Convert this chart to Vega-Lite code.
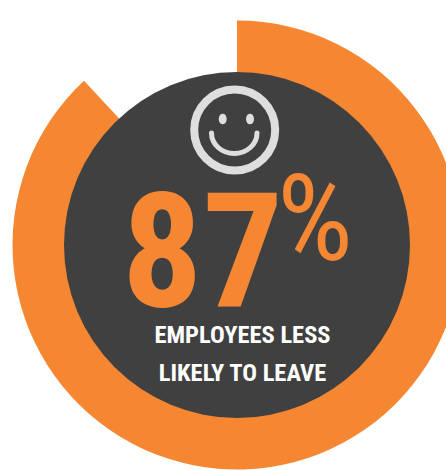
{
  "$schema": "https://vega.github.io/schema/vega-lite/v6.json",
  "width": 418,
  "height": 450,
  "padding": {"left": 28, "top": 20, "right": 0, "bottom": 0},
  "autosize": "none",
  "background": "white",
  "data": {"values": [{"metric": "Employees less likely to leave", "percent": 87}]},
  "layer": [
    {
      "mark": {"type": "arc", "color": "#F58733", "outerRadius": 224.5, "innerRadius": 0},
      "encoding": {
        "theta": {"field": "percent", "type": "quantitative", "stack": null, "scale": {"domain": [0, 100], "range": [0, 6.36]}, "legend": null}
      }
    },
    {
      "mark": {"type": "arc", "color": "#404040", "outerRadius": 173, "innerRadius": 0, "theta": 0, "theta2": 6.2832},
      "encoding": {}
    },
    {
      "description": "Smiley outline, eyes and mouth, with path units relative to the disc centre",
      "mark": {"type": "point", "size": 4, "filled": false, "stroke": "#DEDEDE", "strokeWidth": 8, "opacity": 1,
        "shape": "M38.2,-115 A40.5,40.5 0 1,1 -42.8,-115 A40.5,40.5 0 1,1 38.2,-115 Z"},
      "encoding": {}
    },
    {
      "mark": {"type": "point", "size": 4, "filled": false, "stroke": "#DEDEDE", "strokeWidth": 5, "strokeCap": "round", "opacity": 1,
        "shape": "M-25.5,-112 A22.75,20.5 0 0,0 20,-112"},
      "encoding": {}
    },
    {
      "mark": {"type": "point", "size": 4, "filled": true, "fill": "#DEDEDE", "opacity": 1,
        "shape": "M-18.3,-126 C-18.3,-133 -10.3,-133 -10.3,-126 C-10.3,-119 -18.3,-119 -18.3,-126 Z M9,-126 C9,-133 17,-133 17,-126 C17,-119 9,-119 9,-126 Z"},
      "encoding": {}
    },
    {
      "mark": {"type": "text", "font": "Roboto Condensed, DejaVu Sans Condensed, Liberation Sans", "fontWeight": "bold", "fontSize": 160, "color": "#F58733", "align": "center", "baseline": "middle", "dx": -34.5, "dy": 13},
      "encoding": {"text": {"field": "percent", "type": "quantitative"}}
    },
    {
      "mark": {"type": "text", "font": "Roboto Condensed, DejaVu Sans Condensed, Liberation Sans", "fontSize": 120, "color": "#F58733", "align": "center", "baseline": "middle", "dx": 78, "dy": -20.7, "text": "%"},
      "encoding": {}
    },
    {
      "mark": {"type": "text", "font": "Roboto Condensed, DejaVu Sans Condensed, Liberation Sans", "fontWeight": "bold", "fontSize": 24.5, "color": "#FFFFFF", "align": "center", "baseline": "middle", "dx": 5.5, "dy": 91, "text": "EMPLOYEES LESS"},
      "encoding": {}
    },
    {
      "mark": {"type": "text", "font": "Roboto Condensed, DejaVu Sans Condensed, Liberation Sans", "fontWeight": "bold", "fontSize": 24.5, "color": "#FFFFFF", "align": "center", "baseline": "middle", "dx": 5.5, "dy": 129, "text": "LIKELY TO LEAVE"},
      "encoding": {}
    }
  ],
  "config": {"view": {"stroke": null}}
}
